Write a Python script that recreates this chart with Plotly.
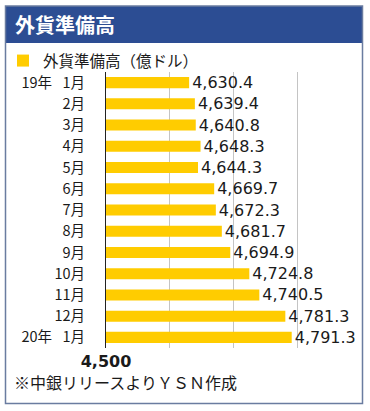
import plotly.graph_objects as go

months = ["19年 \u20021月", "2月", "3月", "4月", "5月", "6月", "7月", "8月", "9月",
          "10月", "11月", "12月", "20年 \u20021月"]
reserves = [4630.4, 4639.4, 4640.8, 4648.3, 4644.3, 4669.7, 4672.3, 4681.7,
            4694.9, 4724.8, 4740.5, 4781.3, 4791.3]
x_tickvals = [4500, 4600, 4700, 4800]
x_ticktext = ["4,500", "", "", ""]
title_text = "外貨準備高"
series_name = "外貨準備高（億ドル）"
source_text = "※中銀リリースよりＹＳＮ作成"

W, H = 370, 411
ML, MR, MT, MB = 106, 9, 72, 63
PW, PH = W - ML - MR, H - MT - MB


def px(x):
    return (x - ML) / PW


def py(y):
    return (H - MB - y) / PH


JP = "Noto Sans CJK JP"
NUM = "DejaVu Sans"

fig = go.Figure()
fig.add_trace(go.Bar(
    x=reserves, y=months, orientation="h", name=series_name,
    marker=dict(color="#FFCC00", line=dict(width=0)),
    text=reserves, texttemplate="%{x:,.1f}", textposition="outside",
    textfont=dict(family=NUM, size=16, color="#1a1a1a"),
    constraintext="none",
    cliponaxis=False, showlegend=True,
))

fig.update_layout(
    width=W, height=H,
    margin=dict(l=ML, r=MR, t=MT, b=MB, pad=0, autoexpand=False),
    paper_bgcolor="white", plot_bgcolor="white",
    bargap=0.48,
    font=dict(family=JP, size=15, color="#1a1a1a"),
    xaxis=dict(range=[4500, 4900], tickvals=x_tickvals, ticktext=x_ticktext,
               showgrid=True, gridcolor="#c4c4c4", gridwidth=1, zeroline=False,
               showline=False, ticks="", automargin=False, ticklabelstandoff=2,
               tickfont=dict(family=NUM, size=16, color="#1a1a1a", weight="bold"),
               fixedrange=True),
    yaxis=dict(autorange="reversed", showline=True, linecolor="#222", linewidth=1,
               ticks="", showgrid=False, ticklabelstandoff=17, automargin=False,
               tickfont=dict(family=JP, size=14.5, color="#1a1a1a")),
    showlegend=True,
    legend=dict(orientation="h", x=px(3), y=py(44), xanchor="left", yanchor="top",
                font=dict(family=JP, size=15.5, color="#1a1a1a"),
                bgcolor="rgba(0,0,0,0)", borderwidth=0, itemclick=False),
    shapes=[
        dict(type="rect", xref="paper", yref="paper", x0=px(5.5), x1=px(362.5),
             y0=py(6), y1=py(43), fillcolor="#2c4d93", line=dict(width=0), layer="below"),
        dict(type="rect", xref="paper", yref="paper", x0=px(5.5), x1=px(362.5),
             y0=py(6), y1=py(403.5), fillcolor="rgba(0,0,0,0)",
             line=dict(color="#6a7ca0", width=1.5), layer="above"),
    ],
    annotations=[
        dict(text="<b>" + title_text + "</b>", xref="paper", yref="paper",
             x=px(13), y=py(25), xanchor="left", yanchor="middle", showarrow=False,
             font=dict(family=JP, size=20, color="white")),
        dict(text=source_text, xref="paper", yref="paper",
             x=px(12), y=py(382), xanchor="left", yanchor="middle", showarrow=False,
             font=dict(family=JP, size=16, color="#1a1a1a")),
    ],
)

fig.write_html("out.html", config={"displayModeBar": False},
               post_script="document.body.style.margin='0';document.body.style.overflow='hidden';")
